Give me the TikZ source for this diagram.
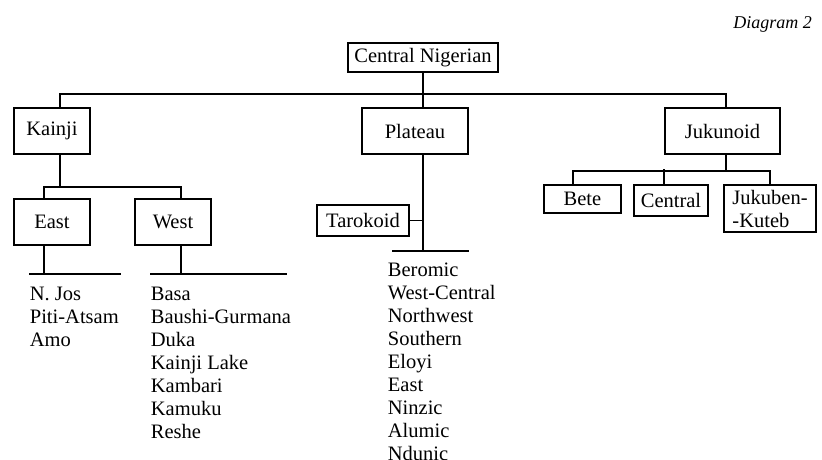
\documentclass[tikz,border=0pt]{standalone}
\usepackage{fontspec}
\setmainfont{Liberation Serif}
\usetikzlibrary{positioning}

\begin{document}
\begin{tikzpicture}[
        x=1pt, y=-1pt,
        line width=1.8pt,
        every node/.style={font=\fontsize{20.5}{23}\selectfont},
        box/.style={rectangle, draw, inner sep=0pt, minimum height=46pt},
        smallbox/.style={rectangle, draw, inner sep=0pt, minimum height=28pt},
        list/.style={align=left, inner sep=0pt, anchor=north west}
    ]
    \useasboundingbox (0,0) rectangle (822,459);

    \node[anchor=base east, font=\fontsize{18}{20}\selectfont\itshape] (title) at (816,28) {Diagram 2};

    % Root
    \node[rectangle, draw, inner sep=0pt, minimum width=150pt, minimum height=29pt] (root) at (423,57.5) {Central Nigerian};

    % First level
    \node[box, minimum width=76pt] (kainji) at (52,131) {Kainji};
    \node[box, minimum width=106pt] (plateau) at (415,131) {Plateau};
    \node[box, minimum width=115pt] (jukunoid) at (722.5,131) {Jukunoid};

    % Kainji branch
    \node[box, minimum width=76pt] (east) at (52,222) {East};
    \node[box, minimum width=76pt] (west) at (173,222) {West};

    % Plateau branch
    \node[rectangle, draw, inner sep=0pt, minimum width=92pt, minimum height=31pt] (tarokoid) at (363,220.5) {Tarokoid};

    % Jukunoid branch
    \node[smallbox, minimum width=77pt] (bete) at (582.5,199) {Bete};
    \node[smallbox, minimum width=74pt, minimum height=31pt] (central) at (671,200.5) {Central};
    \node[smallbox, minimum width=92pt, minimum height=47pt, align=left] (jukuben) at (770,208.5) {Jukuben-\\-Kuteb};

    % Top level connectors
    \coordinate (top) at (423,94);
    \draw (root.south -| top) -- (top);
    \draw ([xshift=8]kainji.north) |- (top) -| ([xshift=3.5]jukunoid.north);
    \draw (top) -- (plateau.north -| top);

    % Kainji children
    \draw ([xshift=8]kainji.south) -- ++(0,32) coordinate (kj);
    \draw ([xshift=-8]east.north) |- (kj) -| ([xshift=8]west.north);

    % East and West lists
    \draw ([xshift=-8]east.south) -- ++(0,28) coordinate (eb);
    \draw ([xshift=-15]eb) -- ([xshift=77]eb);
    \draw ([xshift=8]west.south) -- ++(0,28) coordinate (wb);
    \draw ([xshift=-31]wb) -- ([xshift=106]wb);
    \node[list] (eastlist) at ([xshift=-15, yshift=-12]eb) {N. Jos\\Piti-Atsam\\Amo};
    \node[list] (westlist) at ([xshift=-31, yshift=-12]wb) {Basa\\Baushi-Gurmana\\Duka\\Kainji Lake\\Kambari\\Kamuku\\Reshe};

    % Plateau children
    \draw ([xshift=8]plateau.south) -- ++(0,96) coordinate (pb);
    \draw (tarokoid.east) -- (tarokoid.east -| pb);
    \draw ([xshift=-31]pb) -- ([xshift=46]pb);
    \node[list] (platlist) at ([xshift=-36, yshift=-11]pb) {Beromic\\West-Central\\Northwest\\Southern\\Eloyi\\East\\Ninzic\\Alumic\\Ndunic};

    % Jukunoid children
    \draw ([xshift=3.5]jukunoid.south) -- ++(0,16) coordinate (jb);
    \draw ([xshift=-9.5]bete.north) |- (jb) -| (jukuben.north);
    \draw ([xshift=-7]central.north) -- ++(0,-15);

\end{tikzpicture}
\end{document}
